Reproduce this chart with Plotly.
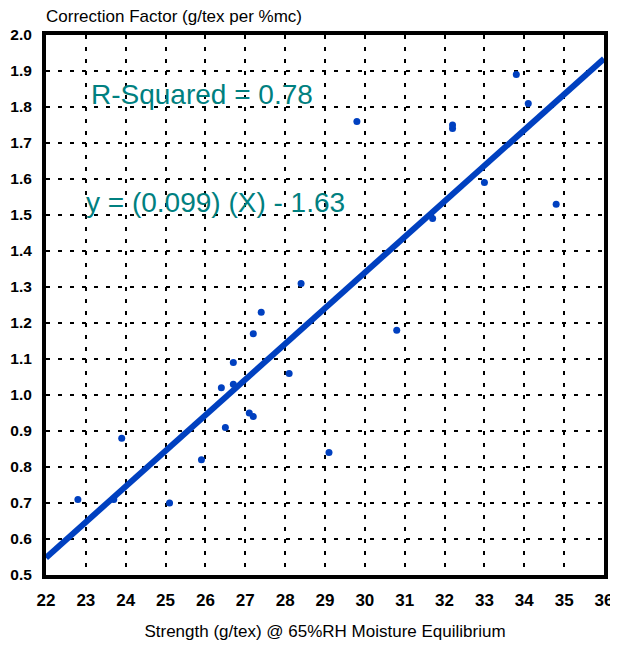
import plotly.graph_objects as go

strength = [22.8, 23.7, 23.9, 25.1, 25.9, 26.5, 26.4, 26.7, 26.7, 27.1, 27.2, 27.2,
            27.4, 28.1, 28.4, 29.1, 29.8, 30.8, 31.7, 32.2, 32.2, 33.0, 33.8, 34.1, 34.8]
correction = [0.71, 0.71, 0.88, 0.70, 0.82, 0.91, 1.02, 1.03, 1.09, 0.95, 0.94, 1.17,
              1.23, 1.06, 1.31, 0.84, 1.76, 1.18, 1.49, 1.75, 1.74, 1.59, 1.89, 1.81, 1.53]

slope = 0.099
intercept = -1.63
fit_x = [22, 36]
fit_y = [slope * v + intercept for v in fit_x]

x_ticks = list(range(22, 37))
y_ticks = [round(0.5 + 0.1 * i, 1) for i in range(16)]

blue = "#0040C0"
teal = "#008080"
font_family = "Liberation Sans, Arial, Helvetica, sans-serif"

fig = go.Figure()
fig.add_trace(go.Scatter(x=fit_x, y=fit_y, mode="lines",
                         line=dict(color=blue, width=6), hoverinfo="skip"))
fig.add_trace(go.Scatter(x=strength, y=correction, mode="markers",
                         marker=dict(color=blue, size=7)))

fig.add_annotation(x=23.07, y=1.836, xref="x", yref="y", text="R-Squared = 0.78",
                   showarrow=False, xanchor="left", yanchor="middle",
                   font=dict(family=font_family, size=28, color=teal))
fig.add_annotation(x=22.95, y=1.536, xref="x", yref="y", text="y = (0.099) (X) - 1.63",
                   showarrow=False, xanchor="left", yanchor="middle",
                   font=dict(family=font_family, size=28, color=teal))

fig.add_annotation(x=-2 / 558, y=1 + (27 - 9) / 540, xref="paper", yref="paper",
                   text="Correction Factor (g/tex per %mc)", showarrow=False,
                   xanchor="left", yanchor="middle",
                   font=dict(family=font_family, size=17, color="black"))

fig.update_layout(
    width=610, height=640,
    margin=dict(l=38, r=14, t=27, b=73, autoexpand=False),
    paper_bgcolor="white", plot_bgcolor="white",
    showlegend=False,
    font=dict(family=font_family, color="black"),
)

fig.update_xaxes(
    range=[22, 36], tickmode="array", tickvals=x_ticks, ticktext=[str(v) for v in x_ticks],
    showgrid=True, gridcolor="black", gridwidth=2, griddash="4px,8px",
    showline=True, linecolor="black", linewidth=3.5, mirror=True,
    zeroline=False, ticks="", ticklabelstandoff=7, automargin=False,
    tickfont=dict(family=font_family, size=17, color="black", weight="bold"),
    title=dict(text="Strength (g/tex) @ 65%RH Moisture Equilibrium",
               font=dict(family=font_family, size=17, color="black"), standoff=17),
)
fig.update_yaxes(
    range=[0.5, 2.0], tickmode="array", tickvals=y_ticks,
    ticktext=[f"{v:.1f}" for v in y_ticks],
    showgrid=True, gridcolor="black", gridwidth=2, griddash="4px,8px",
    showline=True, linecolor="black", linewidth=4, mirror=True,
    zeroline=False, ticks="", ticklabelstandoff=7, automargin=False,
    tickfont=dict(family=font_family, size=15.5, color="black", weight="bold"),
)

fig.write_html("out.html")
